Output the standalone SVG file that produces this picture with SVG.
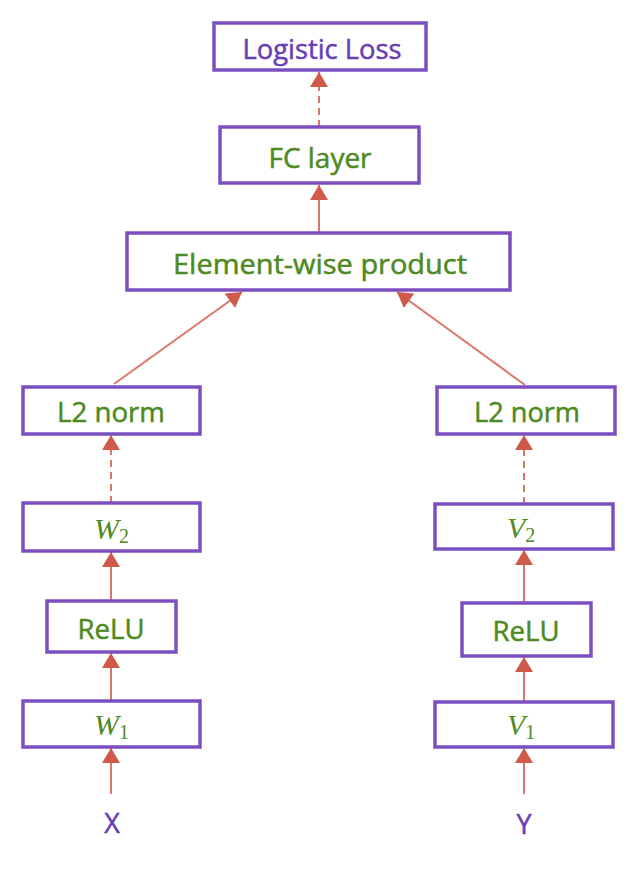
<svg xmlns="http://www.w3.org/2000/svg" width="639" height="871" viewBox="0 0 639 871">
<style>
.box{fill:#fff;stroke:#7B4FC0;stroke-width:3.5}
.t{font-family:"Open Sans","Liberation Sans",sans-serif;font-size:27px;fill:#4E8A22;stroke:#4E8A22;stroke-width:0.5;text-anchor:middle}
.p{fill:#6A3DB5;stroke:#6A3DB5}
.m{font-family:"Liberation Serif",serif;font-style:italic;font-size:30px;fill:#4E8A22}
.s{font-family:"Liberation Serif",serif;font-size:20px;fill:#4E8A22}
.c{stroke:#DC7669;stroke-width:2;fill:none}
.d{stroke-dasharray:7,5}
</style>
<defs>
<marker id="ah" markerUnits="userSpaceOnUse" markerWidth="16" markerHeight="18" refX="15" refY="9" orient="auto">
<path d="M0,0 L15,9 L0,18 z" fill="#CF5A4A"/>
</marker>
</defs>
<g id="connectors">
<line class="c d" x1="319" y1="127" x2="319" y2="72" marker-end="url(#ah)"/>
<line class="c" x1="319" y1="233" x2="319" y2="185" marker-end="url(#ah)"/>
<line class="c" x1="114" y1="384" x2="242" y2="292" marker-end="url(#ah)"/>
<line class="c" x1="525" y1="385" x2="397" y2="292" marker-end="url(#ah)"/>
<line class="c d" x1="111" y1="503" x2="111" y2="435" marker-end="url(#ah)"/>
<line class="c d" x1="524" y1="504" x2="524" y2="435" marker-end="url(#ah)"/>
<line class="c" x1="111" y1="601" x2="111" y2="552" marker-end="url(#ah)"/>
<line class="c" x1="524" y1="603" x2="524" y2="550" marker-end="url(#ah)"/>
<line class="c" x1="111" y1="701" x2="111" y2="653" marker-end="url(#ah)"/>
<line class="c" x1="524" y1="702" x2="524" y2="657" marker-end="url(#ah)"/>
<line class="c" x1="111" y1="794" x2="111" y2="748" marker-end="url(#ah)"/>
<line class="c" x1="524" y1="794" x2="524" y2="748" marker-end="url(#ah)"/>
</g>
<g id="logistic"><rect class="box" x="214" y="23" width="212" height="47"/><text class="t p" x="322" y="59" textLength="159" lengthAdjust="spacingAndGlyphs">Logistic Loss</text></g>
<g id="fc"><rect class="box" x="220" y="127" width="199" height="56"/><text class="t" x="320" y="168" textLength="103" lengthAdjust="spacingAndGlyphs">FC layer</text></g>
<g id="elem"><rect class="box" x="127" y="233" width="383" height="57"/><text class="t" x="320" y="274" textLength="294" lengthAdjust="spacingAndGlyphs">Element-wise product</text></g>
<g id="l2left"><rect class="box" x="23" y="387" width="177" height="47"/><text class="t" x="111" y="422" textLength="108" lengthAdjust="spacingAndGlyphs">L2 norm</text></g>
<g id="l2right"><rect class="box" x="437" y="387" width="178" height="47"/><text class="t" x="527" y="422" textLength="106" lengthAdjust="spacingAndGlyphs">L2 norm</text></g>
<g id="w2"><rect class="box" x="23" y="503" width="177" height="48"/><text x="94" y="539"><tspan class="m">W</tspan><tspan class="s" dy="4">2</tspan></text></g>
<g id="v2"><rect class="box" x="435" y="504" width="178" height="45"/><text x="507" y="538"><tspan class="m">V</tspan><tspan class="s" dy="4">2</tspan></text></g>
<g id="reluleft"><rect class="box" x="47" y="601" width="129" height="51"/><text class="t" x="111" y="639" textLength="67" lengthAdjust="spacingAndGlyphs">ReLU</text></g>
<g id="reluright"><rect class="box" x="462" y="603" width="129" height="53"/><text class="t" x="526" y="641" textLength="67" lengthAdjust="spacingAndGlyphs">ReLU</text></g>
<g id="w1"><rect class="box" x="23" y="701" width="177" height="46"/><text x="94" y="735"><tspan class="m">W</tspan><tspan class="s" dy="4">1</tspan></text></g>
<g id="v1"><rect class="box" x="435" y="702" width="178" height="45"/><text x="507" y="735"><tspan class="m">V</tspan><tspan class="s" dy="4">1</tspan></text></g>
<g id="x"><text class="t p" x="112" y="833">X</text></g>
<g id="y"><text class="t p" x="524" y="834">Y</text></g>
</svg>
